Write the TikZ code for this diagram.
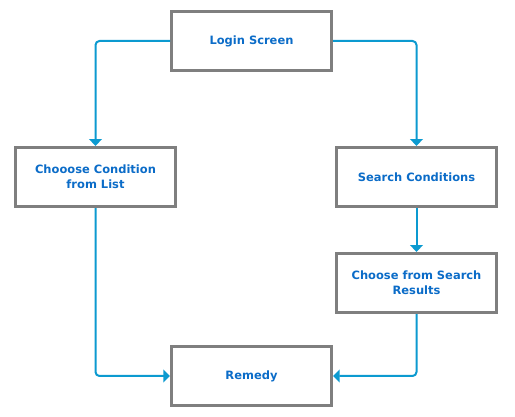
\documentclass[tikz,border=0pt]{standalone}
\usepackage{fontspec}
\setmainfont{DejaVu Sans}
\usetikzlibrary{arrows.meta}
\definecolor{boxgray}{HTML}{7F7F7F}
\definecolor{txtblue}{HTML}{0B6CC8}
\definecolor{arrblue}{HTML}{0C9AD0}
\begin{document}
\begin{tikzpicture}[x=0.75pt,y=-0.75pt,
  stepbox/.style={draw=boxgray,line width=2.25pt,fill=white,minimum width=120pt,minimum height=44.5pt,
    inner sep=0pt,align=center,text=txtblue,font=\bfseries\fontsize{8.6}{11.5}\selectfont},
  conn/.style={draw=arrblue,line width=1.5pt,rounded corners=3pt,-{Triangle[width=9.5pt,length=5pt]}}]
\useasboundingbox (0,0) rectangle (515,417);
\node[stepbox] (login) at (251.5,41) {Login Screen};
\node[stepbox] (choose) at (95.5,177) {Chooose Condition\\from List};
\node[stepbox] (search) at (416.5,177) {Search Conditions};
\node[stepbox] (results) at (416.5,283) {Choose from Search\\Results};
\node[stepbox] (remedy) at (251.5,376) {Remedy};
\draw[conn] (login.west) -| (choose.north);
\draw[conn] (login.east) -| (search.north);
\draw[conn] (search.south) -- (results.north);
\draw[conn] (choose.south) |- (remedy.west);
\draw[conn] (results.south) |- (remedy.east);
\end{tikzpicture}
\end{document}
